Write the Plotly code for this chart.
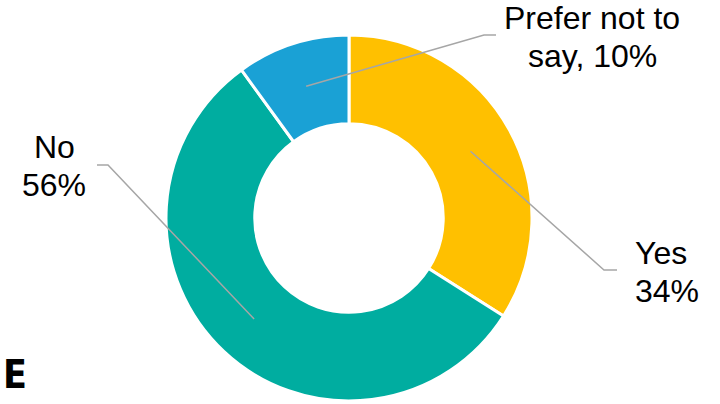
import math
import plotly.graph_objects as go

# Survey responses
labels = ["Yes", "No", "Prefer not to say"]
values = [34, 56, 10]
colors = ["#FFC000", "#00ADA0", "#1AA1D5"]

W, H = 720, 404
CX, CY, R_OUT = 349, 218, 183
HOLE = 0.515
R_MID = R_OUT * (1 + HOLE) / 2


def px(x):
    return x / W


def py(y):
    return 1 - y / H


fig = go.Figure(
    go.Pie(
        labels=labels,
        values=values,
        marker=dict(colors=colors, line=dict(color="white", width=3)),
        hole=HOLE,
        sort=False,
        direction="clockwise",
        rotation=0,
        textinfo="none",
        hoverinfo="label+percent",
        showlegend=False,
        domain=dict(x=[px(CX - R_OUT), px(CX + R_OUT)],
                    y=[py(CY + R_OUT), py(CY - R_OUT)]),
    )
)

# Label text lines and their leader-line elbows (pixel layout)
label_lines = [
    ["Yes", f"{values[0]}%"],
    ["No", f"{values[1]}%"],
    ["Prefer not to", f"say, {values[2]}%"],
]
label_layout = [
    dict(elbow=(604, 270), end=(617, 270), x=633, ys=(253, 291), anchor="left"),
    dict(elbow=(108, 165), end=(97, 165), x=54, ys=(147, 185), anchor="center"),
    dict(elbow=(484, 35), end=(496, 35), x=592, ys=(18, 56), anchor="center"),
]

total = sum(values)
cum = 0
shapes = []
annotations = []
for v, lines, lay in zip(values, label_lines, label_layout):
    mid = (cum + v / 2) / total * 2 * math.pi
    cum += v
    sx = CX + R_MID * math.sin(mid)
    sy = CY - R_MID * math.cos(mid)
    ex, ey = lay["elbow"]
    tx, ty = lay["end"]
    shapes.append(dict(
        type="path", xref="paper", yref="paper",
        path=f"M {px(sx)},{py(sy)} L {px(ex)},{py(ey)} L {px(tx)},{py(ty)}",
        line=dict(color="#A6A6A6", width=1.5),
    ))
    for text, yy in zip(lines, lay["ys"]):
        annotations.append(dict(
            text=text, xref="paper", yref="paper",
            x=px(lay["x"]), y=py(yy), xanchor=lay["anchor"], yanchor="middle",
            showarrow=False,
            font=dict(family="Liberation Sans, Arial, sans-serif", size=32, color="#000000"),
        ))

# Panel letter
annotations.append(dict(
    text="<b>E</b>", xref="paper", yref="paper",
    x=px(1), y=py(374), xanchor="left", yanchor="middle", showarrow=False,
    font=dict(family="Liberation Sans Narrow, DejaVu Sans Condensed, sans-serif",
              size=39, color="#000000"),
))

fig.update_layout(
    width=W, height=H,
    margin=dict(l=0, r=0, t=0, b=0),
    paper_bgcolor="white", plot_bgcolor="white",
    shapes=shapes,
    annotations=annotations,
)

fig.write_html("out.html")
